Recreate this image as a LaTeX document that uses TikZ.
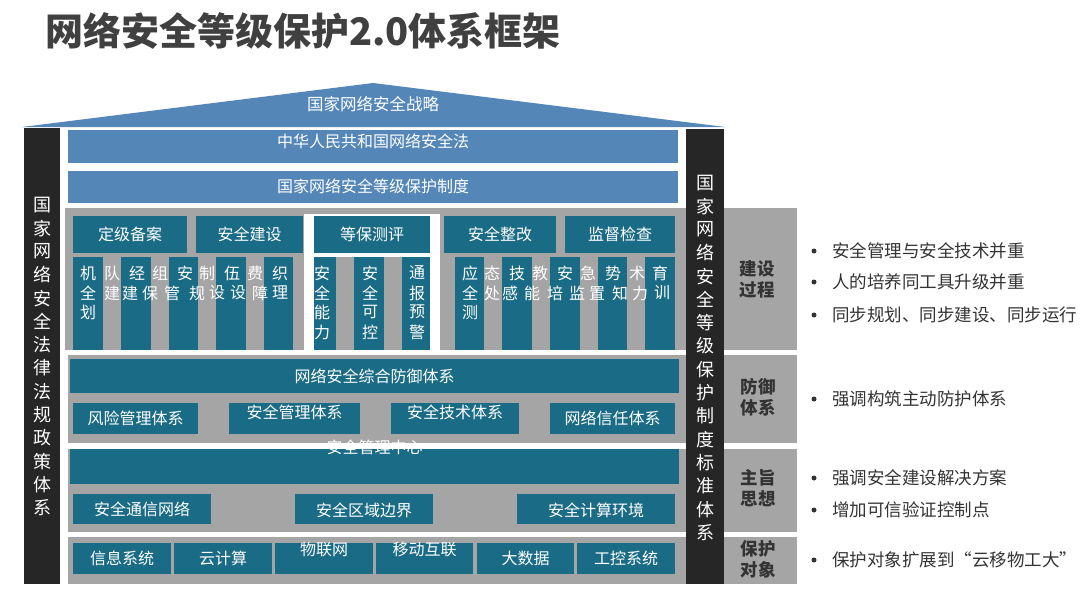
\documentclass[tikz,border=0pt]{standalone}
\usepackage{fontspec}
\setmainfont{Noto Sans CJK SC}
\usepackage{xcolor}
\usetikzlibrary{calc}
\definecolor{sky}{HTML}{5487B8}
\definecolor{deep}{HTML}{1A6B86}
\definecolor{stone}{HTML}{A5A5A5}
\definecolor{pillarc}{HTML}{262626}
\definecolor{ink}{HTML}{333333}
\definecolor{headc}{HTML}{404040}
\tikzset{
  roof/.style={fill=sky},
  lawbar/.style={fill=sky},
  tealbox/.style={fill=deep},
  panel/.style={fill=stone},
  pillar/.style={fill=pillarc},
  wtxt/.style={text=white, font=\fontsize{16}{19}\selectfont, inner sep=0pt},
  coltxt/.style={text=white, font=\fontsize{16}{19}\selectfont, inner sep=0pt},
  vtxt/.style={text=white, font=\fontsize{18}{22}\selectfont, inner sep=0pt},
  sidelab/.style={text=ink, font=\bfseries\fontsize{17.5}{21}\selectfont, align=center, inner sep=0pt},
  point/.style={text=ink, font=\fontsize{17.5}{21}\selectfont, anchor=west, inner sep=0pt},
  dot/.style={fill=ink}
}
\newcommand{\Slab}[6]{%
  % #1 = fill style, #2 = node name, #3 = top left, #4 = bottom right, #5 = text, #6 = text offset (down positive)
  \path[#1] (#3) rectangle (#4);
  \node[wtxt] (#2) at ($(#3)!0.5!(#4)+(0,#6)$) {#5};
}
\begin{document}
\begin{tikzpicture}[x=1pt, y=-1pt, line join=round]
  \useasboundingbox (0,0) rectangle (1083,591);
  \node[text=headc, font=\bfseries\fontsize{38}{41}\selectfont, anchor=west, inner sep=0pt] (title) at (45,31) {网络安全等级保护2.0体系框架};
  % roof and laws
  \path[roof] (22,127) -- (373,83) -- (725,127) -- cycle;
  \node[wtxt, font=\fontsize{16.5}{19}\selectfont] (strategy) at (373,104) {国家网络安全战略};
  \Slab{lawbar}{law}{68,130}{678,163}{中华人民共和国网络安全法}{-5.5}
  \Slab{lawbar}{mlps}{68,171}{678,203}{国家网络安全等级保护制度}{-1}
  % gray panels
  \path[panel] (65,208) rectangle (797,350);
  \path[panel] (68,355) rectangle (797,443);
  \path[panel] (68,449) rectangle (797,532);
  \path[panel] (68,537) rectangle (797,584);
  \path[fill=white] (304,214) rectangle (440,350);
  \path[panel] (314,257) rectangle (430,350);
  % construction process
  \Slab{tealbox}{grade}{73,216}{187,253}{定级备案}{0}
  \Slab{tealbox}{build}{196,216}{303,253}{安全建设}{0}
  \Slab{tealbox}{assess}{314,216}{430,253}{等保测评}{0}
  \Slab{tealbox}{rectify}{444,216}{556,253}{安全整改}{0}
  \Slab{tealbox}{inspect}{565,216}{675,253}{监督检查}{0}
  \foreach \a/\b in {73/103, 121/151, 169/198, 216/246, 264/293, 314/336, 354/384, 402/430, 455/484, 502/532, 550/580, 598/627, 645/675}
    \path[tealbox] (\a,257) rectangle (\b,350);
  \foreach \x/\y/\ch [count=\i] in {88/273/机, 112/273/队, 137/273/经, 160/273/组, 185/273/安, 207/273/制, 232/273/伍, 255/273/费, 280/273/织,
      88/293/全, 112/293/建, 130/293/建, 150/293/保, 172/293/管, 197/293/规, 217/293/设, 238/293/设, 260/293/障, 280/293/理, 88/312/划,
      322/273/安, 322/293/全, 322/312/能, 322/332/力, 370/273/安, 370/293/全, 370/312/可, 370/332/控,
      417/273/通, 417/293/报, 417/312/预, 417/332/警,
      470/273/应, 492/273/态, 517/273/技, 540/273/教, 565/273/安, 588/273/急, 613/273/势, 637/273/术, 660/273/育,
      470/293/全, 492/293/处, 510/293/感, 532/293/能, 555/293/培, 577/293/监, 597/293/置, 620/293/知, 640/293/力, 662/293/训, 470/312/测}
    \node[coltxt] (k\i) at (\x,\y) {\ch};
  % defence
  \Slab{tealbox}{defence}{70,359}{679,393}{网络安全综合防御体系}{0}
  \Slab{tealbox}{risk}{73,403}{198,434}{风险管理体系}{0}
  \Slab{tealbox}{mgmt}{229,403}{360,434}{安全管理体系}{-6.5}
  \Slab{tealbox}{tech}{391,403}{519,434}{安全技术体系}{-6.5}
  \Slab{tealbox}{trust}{550,403}{675,434}{网络信任体系}{0}
  % one centre, three defences
  \Slab{tealbox}{centre}{70,449}{679,484}{安全管理中心}{-19.5}
  \Slab{tealbox}{comm}{73,494}{211,524}{安全通信网络}{0}
  \Slab{tealbox}{border}{295,494}{433,524}{安全区域边界}{1}
  \Slab{tealbox}{compute}{517,494}{675,524}{安全计算环境}{1}
  % protected objects
  \Slab{tealbox}{info}{73,543}{171,574}{信息系统}{0}
  \Slab{tealbox}{cloud}{174,543}{272,574}{云计算}{0}
  \Slab{tealbox}{iot}{275,543}{373,574}{物联网}{-9.5}
  \Slab{tealbox}{mobile}{376,543}{473,574}{移动互联}{-9.5}
  \Slab{tealbox}{bigdata}{477,543}{574,574}{大数据}{0}
  \Slab{tealbox}{ics}{577,543}{675,574}{工控系统}{0}
  % pillars
  \path[pillar] (24,128) rectangle (60,584);
  \path[pillar] (686,129) rectangle (724,584);
  \foreach \ch [count=\i from 0] in {国,家,网,络,安,全,法,律,法,规,政,策,体,系}
    \node[vtxt] (lp\i) at (42,{205+23.3*\i}) {\ch};
  \foreach \ch [count=\i from 0] in {国,家,网,络,安,全,等,级,保,护,制,度,标,准,体,系}
    \node[vtxt] (rp\i) at (705,{183+23.3*\i}) {\ch};
  % side labels
  \node[sidelab] (s1) at (757,279) {建设\\过程};
  \node[sidelab] (s2) at (758,397) {防御\\体系};
  \node[sidelab] (s3) at (758,488) {主旨\\思想};
  \node[sidelab] (s4) at (758,559) {保护\\对象};
  % notes
  \foreach \y/\t [count=\i] in {251/安全管理与安全技术并重, 282/人的培养同工具升级并重, 315/同步规划、同步建设、同步运行, 399/强调构筑主动防护体系,
      478/强调安全建设解决方案, 510/增加可信验证控制点, 560/保护对象扩展到“云移物工大”}
  {
    \fill[dot] (814,\y) circle (2.5);
    \node[point] (p\i) at (832,\y) {\t};
  }
\end{tikzpicture}
\end{document}
